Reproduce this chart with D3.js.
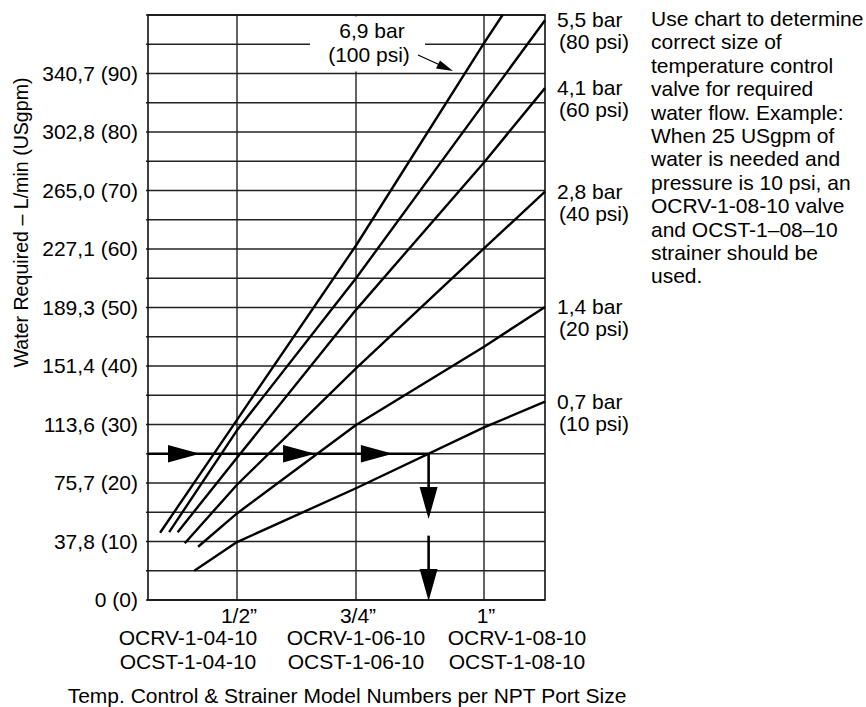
<!DOCTYPE html>
<html><head><meta charset="utf-8">
<script src="https://cdn.jsdelivr.net/npm/d3@7"></script>
<style>
body{margin:0;background:#fff}
text{font-family:"Liberation Sans",Arial,Helvetica,sans-serif;fill:#000}
</style>
</head><body>
<svg id="c" width="866" height="707"></svg>
<script>
// ---------------- DATA ----------------
const portSizes = [0.5, 0.75, 1.0];
const portLabels = ["1/2\u201D", "3/4\u201D", "1\u201D"];
const valveModels = ["OCRV-1-04-10", "OCRV-1-06-10", "OCRV-1-08-10"];
const strainerModels = ["OCST-1-04-10", "OCST-1-06-10", "OCST-1-08-10"];
const yTickValues = [0, 10, 20, 30, 40, 50, 60, 70, 80, 90];
const yTickLabels = ["0 (0)", "37,8 (10)", "75,7 (20)", "113,6 (30)", "151,4 (40)",
  "189,3 (50)", "227,1 (60)", "265,0 (70)", "302,8 (80)", "340,7 (90)"];
const pressureBar = ["6,9 bar", "5,5 bar", "4,1 bar", "2,8 bar", "1,4 bar", "0,7 bar"];
const pressurePsi = ["(100 psi)", "(80 psi)", "(60 psi)", "(40 psi)", "(20 psi)", "(10 psi)"];
// port size (in) and water flow (USgpm)
const psi100X = [0.338, 0.5, 0.75, 1.0, 1.038];
const psi100Flow = [11.5, 30.8, 60.6, 95.2, 100];
const psi80X = [0.357, 0.5, 0.75, 1.0, 1.125];
const psi80Flow = [11.6, 29.0, 55.0, 84.9, 99.1];
const psi60X = [0.375, 0.5, 0.75, 1.0, 1.125];
const psi60Flow = [11.6, 24.3, 49.6, 74.8, 87.5];
const psi40X = [0.390, 0.5, 0.75, 1.0, 1.125];
const psi40Flow = [9.7, 19.7, 39.6, 60.1, 69.8];
const psi20X = [0.418, 0.5, 0.75, 1.0, 1.125];
const psi20Flow = [9.1, 14.8, 29.9, 43.3, 50.1];
const psi10X = [0.410, 0.5, 0.75, 1.0, 1.125];
const psi10Flow = [5.0, 9.9, 19.1, 29.5, 33.9];
const exampleFlow = 25;            // USgpm
const exampleArrowTips = [0.422, 0.664, 0.822]; // port-size positions of the arrow heads
const exampleDownTips = [14, 0];   // flow values of the downward arrow heads
const exampleGap = [14, 11];       // break in the downward line
const noteLines = ["Use chart to determine", "correct size of", "temperature control",
  "valve for required", "water flow. Example:", "When 25 USgpm of", "water is needed and",
  "pressure is 10 psi, an", "OCRV-1-08-10 valve", "and OCST-1\u201308\u201310",
  "strainer should be", "used."];

const series = [
  {x: psi100X, y: psi100Flow}, {x: psi80X, y: psi80Flow}, {x: psi60X, y: psi60Flow},
  {x: psi40X, y: psi40Flow}, {x: psi20X, y: psi20Flow}, {x: psi10X, y: psi10Flow}
].map((s, i) => ({bar: pressureBar[i], psi: pressurePsi[i],
  pts: s.x.map((v, j) => [v, s.y[j]])}));

// ---------------- LAYOUT ----------------
const L = 148, R = 545, T = 15, B = 600;
const FS = 21;
const svg = d3.select("#c");
const x = d3.scaleLinear().domain([0.3125, 0.5, 0.75, 1.0, 1.125]).range([L, 237, 356, 484, 545]);
const y = d3.scaleLinear().domain([0, 100]).range([B, T]);

// grid
const g = svg.append("g");
g.selectAll(".h").data(d3.range(0, 101, 5)).join("line")
  .attr("x1", L - 2).attr("x2", R).attr("y1", d => y(d)).attr("y2", d => y(d))
  .attr("stroke", "#222").attr("stroke-width", 1.4);
g.selectAll(".v").data(portSizes).join("line")
  .attr("x1", d => x(d)).attr("x2", d => x(d)).attr("y1", T).attr("y2", B)
  .attr("stroke", "#222").attr("stroke-width", 1.4);
g.append("rect").attr("x", L).attr("y", T).attr("width", R - L).attr("height", B - T)
  .attr("fill", "none").attr("stroke", "#111").attr("stroke-width", 1.6);

// label box for 100 psi
svg.append("rect").attr("x", 310).attr("y", T + 1.5).attr("width", 115).attr("height", 55)
  .attr("fill", "#fff");

// y-axis
svg.selectAll(".yt").data(yTickValues).join("text")
  .attr("x", 138).attr("y", d => y(d) + 7).attr("text-anchor", "end")
  .attr("font-size", FS).text((d, i) => yTickLabels[i]);
svg.append("text").attr("transform", "translate(28,222.5) rotate(-90)")
  .attr("text-anchor", "middle").attr("font-size", 19.6)
  .text("Water Required \u2013 L/min (USgpm)");

// x-axis labels
const modelX = [188, 356, 517];
svg.selectAll(".xt").data(portSizes).join("text")
  .attr("x", d => x(d) + 2).attr("y", 623).attr("text-anchor", "middle")
  .attr("font-size", FS).text((d, i) => portLabels[i]);
svg.selectAll(".vm").data(valveModels).join("text")
  .attr("x", (d, i) => modelX[i]).attr("y", 645).attr("text-anchor", "middle")
  .attr("font-size", FS).text(d => d);
svg.selectAll(".sm").data(strainerModels).join("text")
  .attr("x", (d, i) => modelX[i]).attr("y", 669).attr("text-anchor", "middle")
  .attr("font-size", FS).text(d => d);
svg.append("text").attr("x", 347).attr("y", 703).attr("text-anchor", "middle")
  .attr("font-size", FS).text("Temp. Control & Strainer Model Numbers per NPT Port Size");

// pressure lines
const line = d3.line().x(d => x(d[0])).y(d => y(d[1]));
svg.selectAll(".ser").data(series).join("path")
  .attr("d", d => line(d.pts)).attr("fill", "none")
  .attr("stroke", "#000").attr("stroke-width", 2.4).attr("stroke-linejoin", "round");

// right labels (all but 100 psi)
series.slice(1).forEach(s => {
  const last = s.pts[s.pts.length - 1];
  const yy = y(last[1]) + 7;
  svg.append("text").attr("x", 557).attr("y", yy).attr("font-size", FS).text(s.bar);
  svg.append("text").attr("x", 559).attr("y", yy + 22).attr("font-size", FS).text(s.psi);
});
// 100 psi callout
svg.append("text").attr("x", 372).attr("y", 38).attr("text-anchor", "middle")
  .attr("font-size", FS).text(series[0].bar);
svg.append("text").attr("x", 369).attr("y", 62).attr("text-anchor", "middle")
  .attr("font-size", FS).text(series[0].psi);
svg.append("line").attr("x1", 418).attr("y1", 55).attr("x2", 440).attr("y2", 65)
  .attr("stroke", "#000").attr("stroke-width", 1.2);
svg.append("path").attr("d", "M453,71 L436,68.5 L440,60.5 Z").attr("fill", "#000");

// note text
const note = svg.append("text").attr("font-size", FS);
noteLines.forEach((t, i) => note.append("tspan").attr("x", 651).attr("y", 26 + i * 23.4).text(t));

// example arrows
function crossX(pts, f) {
  for (let i = 1; i < pts.length; i++) {
    const a = pts[i - 1], b = pts[i];
    if ((a[1] - f) * (b[1] - f) <= 0) {
      const xa = x(a[0]), xb = x(b[0]);
      return xa + (f - a[1]) / (b[1] - a[1]) * (xb - xa);
    }
  }
  return R;
}
const xi = crossX(series[5].pts, exampleFlow);
const ye = y(exampleFlow);
svg.append("line").attr("x1", L).attr("x2", xi).attr("y1", ye).attr("y2", ye)
  .attr("stroke", "#000").attr("stroke-width", 2.6);
exampleArrowTips.forEach(t => {
  const tx = x(t);
  svg.append("path").attr("d", `M${tx},${ye} L${tx - 32},${ye - 8.7} L${tx - 32},${ye + 8.7} Z`)
    .attr("fill", "#000");
});
svg.append("line").attr("x1", xi).attr("x2", xi).attr("y1", ye).attr("y2", y(exampleGap[0]) - 4)
  .attr("stroke", "#000").attr("stroke-width", 2.6);
svg.append("line").attr("x1", xi).attr("x2", xi).attr("y1", y(exampleGap[1])).attr("y2", B - 4)
  .attr("stroke", "#000").attr("stroke-width", 2.6);
exampleDownTips.forEach(f => {
  const ty = y(f) + 1;
  svg.append("path").attr("d", `M${xi},${ty} L${xi - 9},${ty - 32} L${xi + 9},${ty - 32} Z`)
    .attr("fill", "#000");
});
</script>
</body></html>
